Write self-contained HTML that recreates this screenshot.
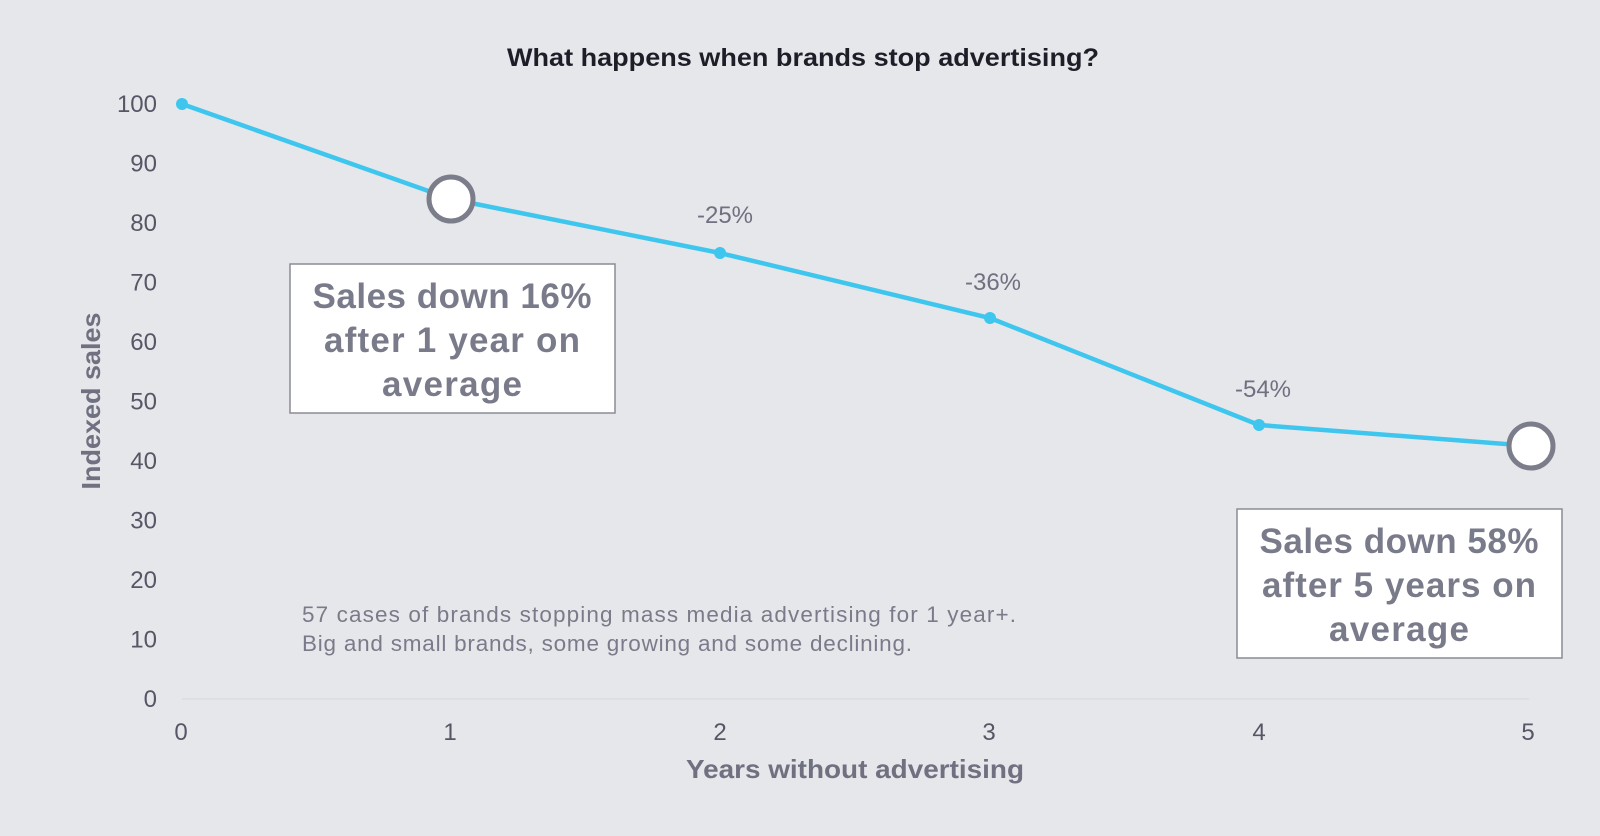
<!DOCTYPE html>
<html><head><meta charset="utf-8"><style>
html,body{margin:0;padding:0;background:#e6e7eb;}
svg{display:block;font-family:"Liberation Sans",sans-serif;}
</style></head><body>
<svg width="1600" height="836" viewBox="0 0 1600 836">
<rect width="1600" height="836" fill="#e6e7eb"/>
<text x="803" y="66" text-anchor="middle" font-size="25" font-weight="bold" fill="#1e1e28" textLength="592" lengthAdjust="spacingAndGlyphs">What happens when brands stop advertising?</text>
<g font-size="24" fill="#555766" text-anchor="end">
<text x="157" y="112">100</text><text x="157" y="171.5">90</text><text x="157" y="231">80</text>
<text x="157" y="290.5">70</text><text x="157" y="350">60</text><text x="157" y="409.5">50</text>
<text x="157" y="469">40</text><text x="157" y="528.5">30</text><text x="157" y="588">20</text>
<text x="157" y="647.5">10</text><text x="157" y="707">0</text>
</g>
<line x1="182" y1="699" x2="1529" y2="699" stroke="#d6d7dc" stroke-width="1"/>
<g font-size="24" fill="#555766" text-anchor="middle">
<text x="181" y="740">0</text><text x="450" y="740">1</text><text x="720" y="740">2</text>
<text x="989" y="740">3</text><text x="1259" y="740">4</text><text x="1528" y="740">5</text>
</g>
<text x="855" y="778" text-anchor="middle" font-size="26" font-weight="bold" fill="#6f7080" textLength="338" lengthAdjust="spacingAndGlyphs">Years without advertising</text>
<text transform="translate(100,401) rotate(-90)" text-anchor="middle" font-size="26" font-weight="bold" fill="#6f7080" textLength="177" lengthAdjust="spacingAndGlyphs">Indexed sales</text>
<polyline points="182,104 451,199 720,253 990,318 1259,425 1531,446" fill="none" stroke="#3ec6ee" stroke-width="4.5" stroke-linejoin="round"/>
<circle cx="182" cy="104" r="6" fill="#3ec6ee"/>
<circle cx="720" cy="253" r="6" fill="#3ec6ee"/>
<circle cx="990" cy="318" r="6" fill="#3ec6ee"/>
<circle cx="1259" cy="425" r="6" fill="#3ec6ee"/>
<circle cx="451" cy="199" r="22" fill="#fff" stroke="#7c7d8b" stroke-width="5"/>
<circle cx="1531" cy="446" r="22" fill="#fff" stroke="#7c7d8b" stroke-width="5"/>
<g font-size="24" fill="#6f7080" text-anchor="middle">
<text x="725" y="223">-25%</text><text x="993" y="290">-36%</text><text x="1263" y="397">-54%</text>
</g>
<rect x="290" y="264" width="325" height="149" fill="#fff" stroke="#8a8b96" stroke-width="1.5"/>
<g font-size="35" font-weight="bold" fill="#7a7b8a" text-anchor="middle" lengthAdjust="spacingAndGlyphs">
<text x="452" y="308" textLength="279">Sales down 16%</text><text x="452" y="352" textLength="256">after 1 year on</text><text x="452" y="396" textLength="140">average</text>
</g>
<rect x="1237" y="509" width="325" height="149" fill="#fff" stroke="#8a8b96" stroke-width="1.5"/>
<g font-size="35" font-weight="bold" fill="#7a7b8a" text-anchor="middle" lengthAdjust="spacingAndGlyphs">
<text x="1399" y="553" textLength="279">Sales down 58%</text><text x="1399" y="597" textLength="274">after 5 years on</text><text x="1399" y="641" textLength="140">average</text>
</g>
<g font-size="22.5" fill="#7a7b8a" lengthAdjust="spacingAndGlyphs">
<text x="302" y="622" textLength="714">57 cases of brands stopping mass media advertising for 1 year+.</text>
<text x="302" y="651" textLength="610">Big and small brands, some growing and some declining.</text>
</g>
</svg>
</body></html>
